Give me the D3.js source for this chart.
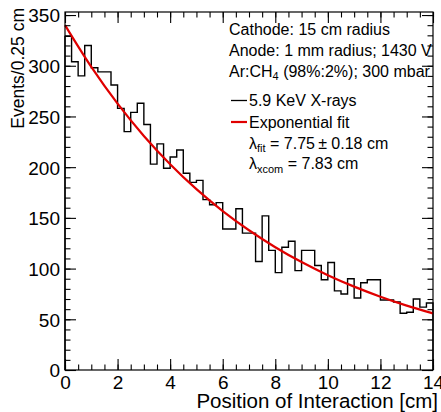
<!DOCTYPE html>
<html><head><meta charset="utf-8">
<script src="https://cdn.jsdelivr.net/npm/d3@7"></script>
<style>
body{margin:0;background:#fff}
svg{display:block}
text{font-family:"Liberation Sans",Arial,Helvetica,sans-serif;fill:#000}
</style>
</head><body>
<svg id="chart" width="441" height="412"></svg>
<script>
// ---- data ----
const binLow = 0;          // cm
const binWidth = 0.25;     // cm
const counts = [329,304,290,320,298,294,294,281,258,235,254,263,242,203,223,199,
  210,217,194,185,187,168,163,165,139,139,159,135,135,107,152,118,96,121,127,98,
  118,118,103,89,106,78,75,90,71,86,89,89,69,69,67,56,57,70,62,66];
const fitX = [0,1,2,3,4,5,6,7,8,9,10,11,12,13,14];
const fitY = [340,298.8,262.6,230.8,202.9,178.3,156.7,137.8,121.1,106.4,93.5,82.2,72.3,63.5,55.8];
const xTickValues = [0,2,4,6,8,10,12,14];
const yTickValues = [0,50,100,150,200,250,300,350];
const infoLines = ["Cathode: 15 cm radius","Anode: 1 mm radius; 1430 V"];
const legendLabels = ["5.9 KeV X-rays","Exponential fit"];

// ---- layout ----
const L = 65, R = 433, T = 12, B = 370;
const svg = d3.select("#chart");
const x = d3.scaleLinear().domain([0,14]).range([L,R]);
const y = d3.scaleLinear().domain([0,353]).range([B,T]);

// histogram step path
const edges = d3.range(counts.length + 1).map(i => binLow + i*binWidth);
let p = d3.path();
p.moveTo(x(edges[0]), y(0));
counts.forEach((c,i) => { p.lineTo(x(edges[i]), y(c)); p.lineTo(x(edges[i+1]), y(c)); });
p.lineTo(x(edges[counts.length]), y(0));
svg.append("path").attr("d", p.toString()).attr("fill","none")
  .attr("stroke","#000").attr("stroke-width",1.4);

// fit curve
const fitLine = d3.line().x((d,i)=>x(fitX[i])).y(d=>y(d)).curve(d3.curveMonotoneX);
svg.append("path").datum(fitY).attr("d", fitLine).attr("fill","none")
  .attr("stroke","#e00000").attr("stroke-width",2.2);

// frame
svg.append("rect").attr("x",L).attr("y",T).attr("width",R-L).attr("height",B-T)
  .attr("fill","none").attr("stroke","#000").attr("stroke-width",1.2);

const FS = 19;
function styleAxis(g){
  g.select(".domain").remove();
  g.selectAll("line").attr("stroke","#000").attr("stroke-width",1.1);
  g.selectAll("text").attr("font-size",FS).attr("font-family",null);
  g.attr("font-family",null).attr("font-size",null);
}
const xMinor = d3.range(0,14.001,0.5);
const yMinor = d3.range(0,353,10);
// bottom
svg.append("g").attr("transform",`translate(0,${B})`)
  .call(d3.axisBottom(x).tickValues(xMinor).tickSize(-5.5).tickFormat("")).call(styleAxis);
svg.append("g").attr("transform",`translate(0,${B})`)
  .call(d3.axisBottom(x).tickValues(xTickValues).tickSize(-11).tickPadding(5.5).tickFormat(d3.format("d"))).call(styleAxis);
// top
svg.append("g").attr("transform",`translate(0,${T})`)
  .call(d3.axisTop(x).tickValues(xMinor).tickSize(-5.5).tickFormat("")).call(styleAxis);
svg.append("g").attr("transform",`translate(0,${T})`)
  .call(d3.axisTop(x).tickValues(xTickValues).tickSize(-11).tickFormat("")).call(styleAxis);
// left
svg.append("g").attr("transform",`translate(${L},0)`)
  .call(d3.axisLeft(y).tickValues(yMinor).tickSize(-5.5).tickFormat("")).call(styleAxis);
const yl = svg.append("g").attr("transform",`translate(${L},0)`)
  .call(d3.axisLeft(y).tickValues(yTickValues).tickSize(-11).tickPadding(5).tickFormat(d3.format("d"))).call(styleAxis);
yl.selectAll("text").attr("dy","0.36em");
// right
svg.append("g").attr("transform",`translate(${R},0)`)
  .call(d3.axisRight(y).tickValues(yMinor).tickSize(-5.5).tickFormat("")).call(styleAxis);
svg.append("g").attr("transform",`translate(${R},0)`)
  .call(d3.axisRight(y).tickValues(yTickValues).tickSize(-11).tickFormat("")).call(styleAxis);

// axis titles
svg.append("text").attr("x",438).attr("y",407.5).attr("text-anchor","end")
  .attr("font-size",20.5).text("Position of Interaction [cm]");
svg.append("text").attr("transform","translate(24,8) rotate(-90)").attr("text-anchor","end")
  .attr("font-size",17.5).text("Events/0.25 cm");

// legend / info
const LX = 229, LFS = 16, SUB = 11;
svg.append("text").attr("x",LX).attr("y",34.5).attr("font-size",LFS).text(infoLines[0]);
svg.append("text").attr("x",LX).attr("y",55.5).attr("font-size",LFS).text(infoLines[1]);
const t3 = svg.append("text").attr("x",LX).attr("y",76.5).attr("font-size",LFS);
t3.append("tspan").text("Ar:CH");
t3.append("tspan").attr("font-size",SUB).attr("dy",3).text("4");
t3.append("tspan").attr("dy",-3).text(" (98%:2%); 300 mbar");

svg.append("line").attr("x1",231).attr("x2",247).attr("y1",100.5).attr("y2",100.5)
  .attr("stroke","#000").attr("stroke-width",1.3);
svg.append("text").attr("x",249).attr("y",106).attr("font-size",LFS).text(legendLabels[0]);
svg.append("line").attr("x1",231).attr("x2",247).attr("y1",122).attr("y2",122)
  .attr("stroke","#e00000").attr("stroke-width",2.2);
svg.append("text").attr("x",249).attr("y",127.5).attr("font-size",LFS).text(legendLabels[1]);

const t6 = svg.append("text").attr("x",249).attr("y",148.5).attr("font-size",LFS);
t6.append("tspan").text("\u03bb");
t6.append("tspan").attr("font-size",SUB).attr("dy",3.5).text("fit");
t6.append("tspan").attr("dy",-3.5).text(" = 7.75\u2009\u00b1 0.18 cm");
const t7 = svg.append("text").attr("x",249).attr("y",169).attr("font-size",LFS);
t7.append("tspan").text("\u03bb");
t7.append("tspan").attr("font-size",SUB).attr("dy",3.5).text("xcom");
t7.append("tspan").attr("dy",-3.5).text(" = 7.83 cm");
</script>
</body></html>
